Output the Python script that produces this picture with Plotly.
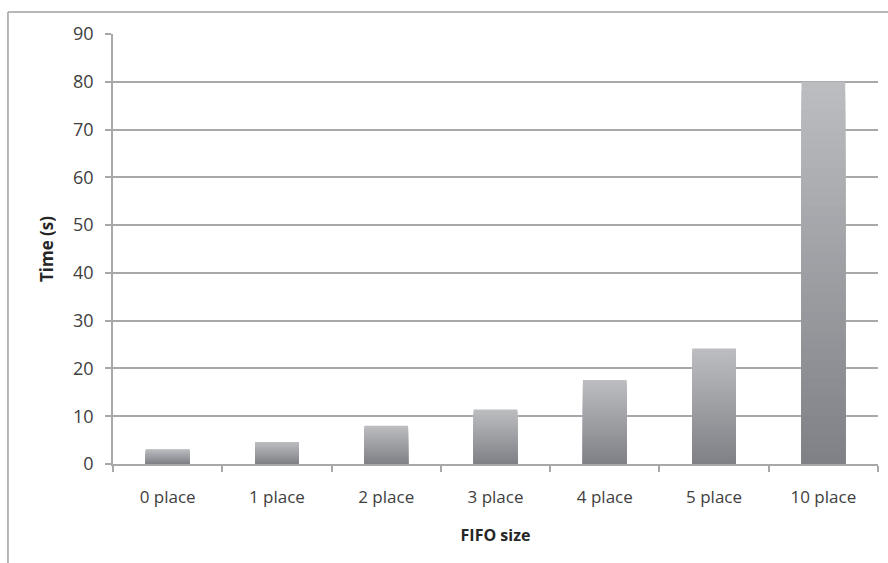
import plotly.graph_objects as go

# FIFO sizes and measured run times
categories = ["0 place", "1 place", "2 place", "3 place", "4 place", "5 place", "10 place"]
times = [3.1, 4.6, 8.0, 11.4, 17.6, 24.2, 80.0]
y_ticks = [0, 10, 20, 30, 40, 50, 60, 70, 80, 90]

# vertical shading of each bar: light at the top, darker at the base
TOP_RGB = (188, 189, 193)
BOTTOM_RGB = (128, 129, 134)
STEPS = 40


def shade(t):
    r, g, b = (round(a + (b_ - a) * t) for a, b_ in zip(TOP_RGB, BOTTOM_RGB))
    return f"rgb({r},{g},{b})"


fig = go.Figure()
# overlaid bars of decreasing height build the gradient
for i in range(STEPS):
    frac = (STEPS - i) / STEPS
    fig.add_trace(go.Bar(
        x=categories,
        y=[v * frac for v in times],
        marker=dict(color=shade(i / (STEPS - 1)), line=dict(width=0)),
        width=0.4,
        hoverinfo="skip",
        showlegend=False,
    ))

grid = "#a8a8aa"
font_family = "Open Sans, Liberation Sans, sans-serif"

fig.update_layout(
    width=888,
    height=563,
    margin=dict(l=113, r=10, t=34, b=99),
    paper_bgcolor="white",
    plot_bgcolor="white",
    barmode="overlay",
    bargap=0.6,
    font=dict(family=font_family, size=17, color="#404040"),
    xaxis=dict(
        type="category",
        title=dict(text="<b>FIFO size</b>", font=dict(size=16, color="#262626"), standoff=23),
        tickson="boundaries",
        ticks="outside",
        ticklen=6,
        tickcolor=grid,
        tickwidth=1.5,
        ticklabelstandoff=17,
        showline=True,
        linecolor=grid,
        linewidth=1.5,
        showgrid=False,
        tickfont=dict(size=17, color="#404040"),
        range=[-0.5, 6.5],
    ),
    yaxis=dict(
        title=dict(text="<b>Time (s)</b>", font=dict(size=17, color="#262626"), standoff=15),
        range=[0, 90],
        tickvals=y_ticks,
        ticks="outside",
        ticklen=6,
        tickcolor=grid,
        tickwidth=1.5,
        ticklabelstandoff=8,
        showline=True,
        linecolor=grid,
        linewidth=1.5,
        showgrid=True,
        gridcolor=grid,
        gridwidth=1.5,
        zeroline=False,
        tickfont=dict(size=18, color="#404040"),
    ),
    shapes=[
        # frame around the chart area (top and left edges)
        dict(type="line", xref="paper", yref="paper",
             x0=-0.1373, x1=1.2, y0=1.0512, y1=1.0512,
             line=dict(color="#a0a0a0", width=1.5)),
        dict(type="line", xref="paper", yref="paper",
             x0=-0.1373, x1=-0.1373, y0=1.0512, y1=-0.3,
             line=dict(color="#a0a0a0", width=1.5)),
    ],
)

fig.write_html("out.html")
